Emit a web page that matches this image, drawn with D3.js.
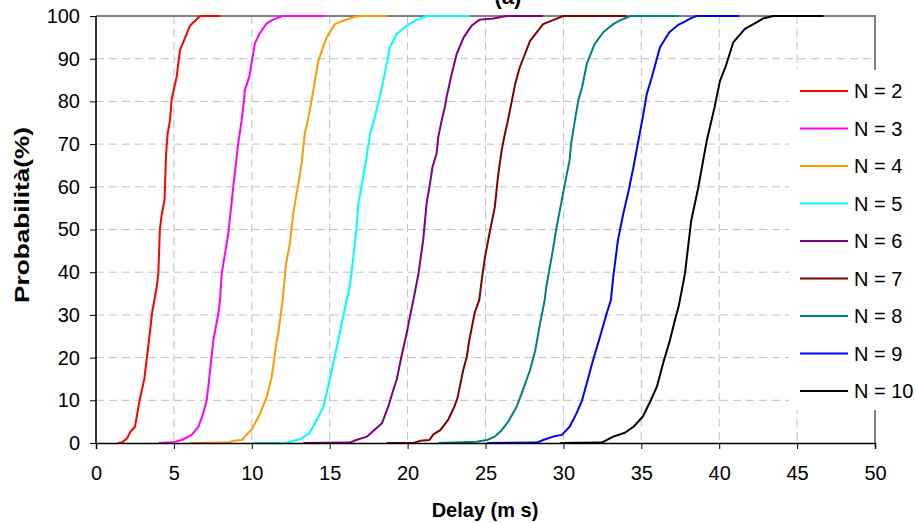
<!DOCTYPE html>
<html>
<head>
<meta charset="utf-8">
<script src="https://cdn.jsdelivr.net/npm/d3@7"></script>
<style>
  body { margin: 0; background: #fff; }
  svg { display: block; font-family: Arial, "Liberation Sans", sans-serif; }
  .grid line { stroke: #c0c0c0; stroke-dasharray: 8,5; }
  .axis text { font-size: 20px; fill: #000; }
</style>
</head>
<body>
<div id="chart"></div>
<script>
// Delay (ms) / probability (%) pairs.
var n2 = [[1.4,0],[1.7,0.2],[2.0,1.1],[2.2,2.6],[2.5,3.8],[2.8,10],[3.1,15],[3.4,24],[3.6,30.5],[3.9,36.6],[4.0,39.7],[4.1,49.9],[4.2,53],[4.4,57],[4.5,67.8],[4.6,72.5],[4.75,75.6],[4.85,80.3],[4.92,81.5],[5.18,85.8],[5.39,92],[5.71,94.8],[6.03,97.7],[6.68,100],[7.96,100]];
var n3 = [[4.0,0],[4.96,0.2],[5.5,0.7],[6.14,1.9],[6.57,3.8],[6.89,7],[7.1,10],[7.21,13.2],[7.53,24],[7.89,31.1],[7.96,33.5],[8.07,39.7],[8.49,49],[8.81,60],[9.13,70.2],[9.35,75.6],[9.5,80.3],[9.56,82.7],[9.84,85.8],[10.2,93.6],[10.5,95.9],[10.96,98.3],[11.4,99.2],[12.0,100],[14.7,100]];
var n4 = [[6.03,0],[8.49,0.1],[8.81,0.5],[9.35,0.7],[10.0,3.2],[10.5,6.6],[10.96,10.8],[11.28,15.5],[11.6,24],[11.7,25.7],[11.98,33.5],[12.2,42],[12.45,46.8],[12.66,53.8],[12.99,60.8],[13.2,65.5],[13.4,72.5],[13.6,75.6],[13.84,80.3],[14.27,89.5],[14.8,95],[15.34,98.1],[15.87,98.9],[16.6,99.8],[17.0,100],[18.66,100]];
var n5 = [[10.0,0],[12.13,0],[13.1,0.9],[13.7,2.3],[14.17,5.4],[14.6,8.5],[15.0,14.8],[15.55,24],[16.09,33.5],[16.2,35],[16.4,39.7],[16.73,50.7],[16.84,56.1],[17.16,62.4],[17.37,67],[17.59,72.5],[17.8,74.9],[18.16,80.3],[18.44,84.8],[18.87,92.7],[19.3,95.8],[19.94,97.7],[20.58,99.1],[21.22,100],[24.0,100]];
var n6 = [[13.3,0],[16.3,0.1],[16.7,0.7],[17.4,1.5],[18.35,4.6],[18.76,8.5],[19.08,12.4],[19.3,14.8],[19.6,20.2],[19.94,25.7],[20.15,29.6],[20.37,33.5],[20.7,39.7],[21.0,47.5],[21.22,56.1],[21.44,60.8],[21.6,64.7],[21.86,67.8],[21.97,71.7],[22.19,75.6],[22.4,78.8],[22.5,81],[22.83,86.4],[23.15,91.1],[23.6,95],[24.1,97.7],[24.6,99.1],[25.5,99.4],[26.35,100],[28.7,100]];
var n7 = [[18.66,0],[20.4,0],[20.8,0.5],[21.4,0.7],[21.66,2],[22.1,3],[22.6,5.4],[23.0,8.5],[23.2,10.5],[23.57,17.1],[23.8,20.2],[23.96,24.1],[24.3,30.4],[24.6,33.5],[24.76,38.2],[24.97,43.6],[25.3,49.9],[25.6,55.3],[25.8,62.4],[26.04,68.6],[26.25,72.5],[26.4,74.9],[26.7,80.3],[26.9,84],[27.2,88],[27.86,94.2],[28.7,98.1],[29.57,99.4],[30.0,100],[34.06,100]];
var n8 = [[21.97,0],[24.4,0.3],[25.1,0.7],[25.6,1.5],[26.04,3],[26.46,5],[27.0,8.5],[27.4,12.4],[27.86,17.1],[28.2,21.8],[28.46,27.2],[28.8,33.5],[28.9,36.6],[29.25,43.6],[29.57,50.7],[29.9,56.9],[30.1,60.8],[30.4,66.3],[30.5,70.2],[30.74,75.6],[30.96,80.3],[31.2,83.3],[31.5,88.8],[32.0,93.4],[32.56,96.2],[33.2,98.1],[33.6,98.9],[34.3,100],[37.4,100]];
var n9 = [[25.1,0],[28.3,0.1],[28.7,0.7],[29.35,1.5],[29.9,1.9],[30.4,3.8],[30.85,7],[31.2,10],[31.5,14],[31.9,19.4],[32.35,24.9],[32.78,30.4],[33.05,33.5],[33.2,38.9],[33.5,47.5],[33.85,53.8],[34.2,59.3],[34.5,64.7],[34.9,72.5],[35.1,76.4],[35.35,81.7],[35.67,85.6],[36.2,92.7],[36.8,96.2],[37.4,98],[37.7,98.5],[38.2,99.5],[38.55,100],[41.3,100]];
var n10 = [[29.8,0],[32.46,0.1],[33.2,1.5],[33.95,2.4],[34.5,3.8],[35.1,6.2],[35.56,9.6],[36.0,13.2],[36.4,18.7],[36.84,24.1],[37.16,28.8],[37.4,32],[37.8,39.6],[38.2,52],[38.66,59.9],[39.2,70.8],[39.7,78.6],[40.05,84.8],[40.4,88],[40.9,93.8],[41.65,97],[42.4,98.5],[42.8,99.4],[43.47,100],[46.7,100]];

var seriesNames = ['N = 2', 'N = 3', 'N = 4', 'N = 5', 'N = 6', 'N = 7', 'N = 8', 'N = 9', 'N = 10'];
var seriesData = [n2, n3, n4, n5, n6, n7, n8, n9, n10];
var seriesColors = ['#ff0000', '#ff00ff', '#ff9900', '#00ffff', '#800080', '#800000', '#008080', '#0000ff', '#000000'];

var xTicks = [0, 5, 10, 15, 20, 25, 30, 35, 40, 45, 50];
var yTicks = [0, 10, 20, 30, 40, 50, 60, 70, 80, 90, 100];

(function() {
  'use strict';

  var width = 915, height = 523;
  var plot = {left: 96, right: 875, top: 16, bottom: 443};

  var xScale = d3.scaleLinear().domain([0, 50]).range([plot.left, plot.right]);
  var yScale = d3.scaleLinear().domain([0, 100]).range([plot.bottom, plot.top]);

  var svg = d3.select('#chart').append('svg')
      .attr('width', width)
      .attr('height', height);

  // Dashed grid, inner ticks only (the frame covers the outer ones).
  var grid = svg.append('g').attr('class', 'grid');
  grid.selectAll('.gx')
      .data(xTicks.slice(1, -1))
      .enter().append('line')
      .attr('x1', xScale).attr('x2', xScale)
      .attr('y1', plot.top).attr('y2', plot.bottom);
  grid.selectAll('.gy')
      .data(yTicks.slice(1, -1))
      .enter().append('line')
      .attr('x1', plot.left).attr('x2', plot.right)
      .attr('y1', yScale).attr('y2', yScale);

  // Gray frame on the top and right.
  svg.append('path')
      .attr('d', 'M' + plot.left + ',' + plot.top + 'H' + plot.right + 'V' + plot.bottom)
      .attr('fill', 'none')
      .attr('stroke', '#808080')
      .attr('stroke-width', 2);

  var line = d3.line()
      .x(function(d) { return xScale(d[0]); })
      .y(function(d) { return yScale(d[1]); });

  svg.append('g').selectAll('path')
      .data(seriesData)
      .enter().append('path')
      .attr('d', line)
      .attr('fill', 'none')
      .attr('stroke', function(d, i) { return seriesColors[i]; })
      .attr('stroke-width', 2)
      .attr('stroke-linejoin', 'round');

  // Legend sits on a white box that hides the right edge of the plot.
  var legend = svg.append('g').attr('transform', translation(789, 70));
  legend.append('rect')
      .attr('width', 130).attr('height', 340)
      .attr('fill', '#fff');

  var rows = legend.selectAll('.row')
      .data(seriesNames)
      .enter().append('g')
      .attr('transform', function(d, i) { return translation(0, 21 + i * 37.5); });
  rows.append('line')
      .attr('x1', 11).attr('x2', 59)
      .attr('stroke', function(d, i) { return seriesColors[i]; })
      .attr('stroke-width', 2);
  rows.append('text')
      .attr('x', 65).attr('y', 7)
      .style('font-size', '20px')
      .text(function(d) { return d; });

  // Axes.
  var xAxis = d3.axisBottom(xScale).tickValues(xTicks).tickSize(6).tickPadding(17);
  var yAxis = d3.axisLeft(yScale).tickValues(yTicks).tickSize(6).tickPadding(10);

  var gx = svg.append('g')
      .attr('class', 'axis')
      .attr('transform', translation(0, plot.bottom))
      .call(xAxis);
  gx.select('.domain').attr('stroke', '#000').attr('stroke-width', 1.5);

  var gy = svg.append('g')
      .attr('class', 'axis')
      .attr('transform', translation(plot.left, 0))
      .call(yAxis);
  gy.select('.domain').attr('stroke', '#333').attr('stroke-width', 2).attr('d', 'M0,' + plot.top + 'V' + plot.bottom);

  // Titles. The chart title is cut off by the top edge, as in the original.
  svg.append('text')
      .attr('x', 508).attr('y', 4)
      .attr('text-anchor', 'middle')
      .style('font-size', '22px').style('font-weight', 'bold')
      .text('(a)');

  svg.append('text')
      .attr('x', 485).attr('y', 517)
      .attr('text-anchor', 'middle')
      .style('font-size', '20px').style('font-weight', 'bold')
      .text('Delay (m s)');

  svg.append('text')
      .attr('transform', translation(29, 215) + 'rotate(-90)')
      .attr('text-anchor', 'middle')
      .attr('textLength', 176)
      .attr('lengthAdjust', 'spacingAndGlyphs')
      .style('font-size', '20px').style('font-weight', 'bold')
      .text('Probabilità(%)');

  function translation(x, y) {
    return 'translate(' + x + ',' + y + ')';
  }
}());
</script>
</body>
</html>
